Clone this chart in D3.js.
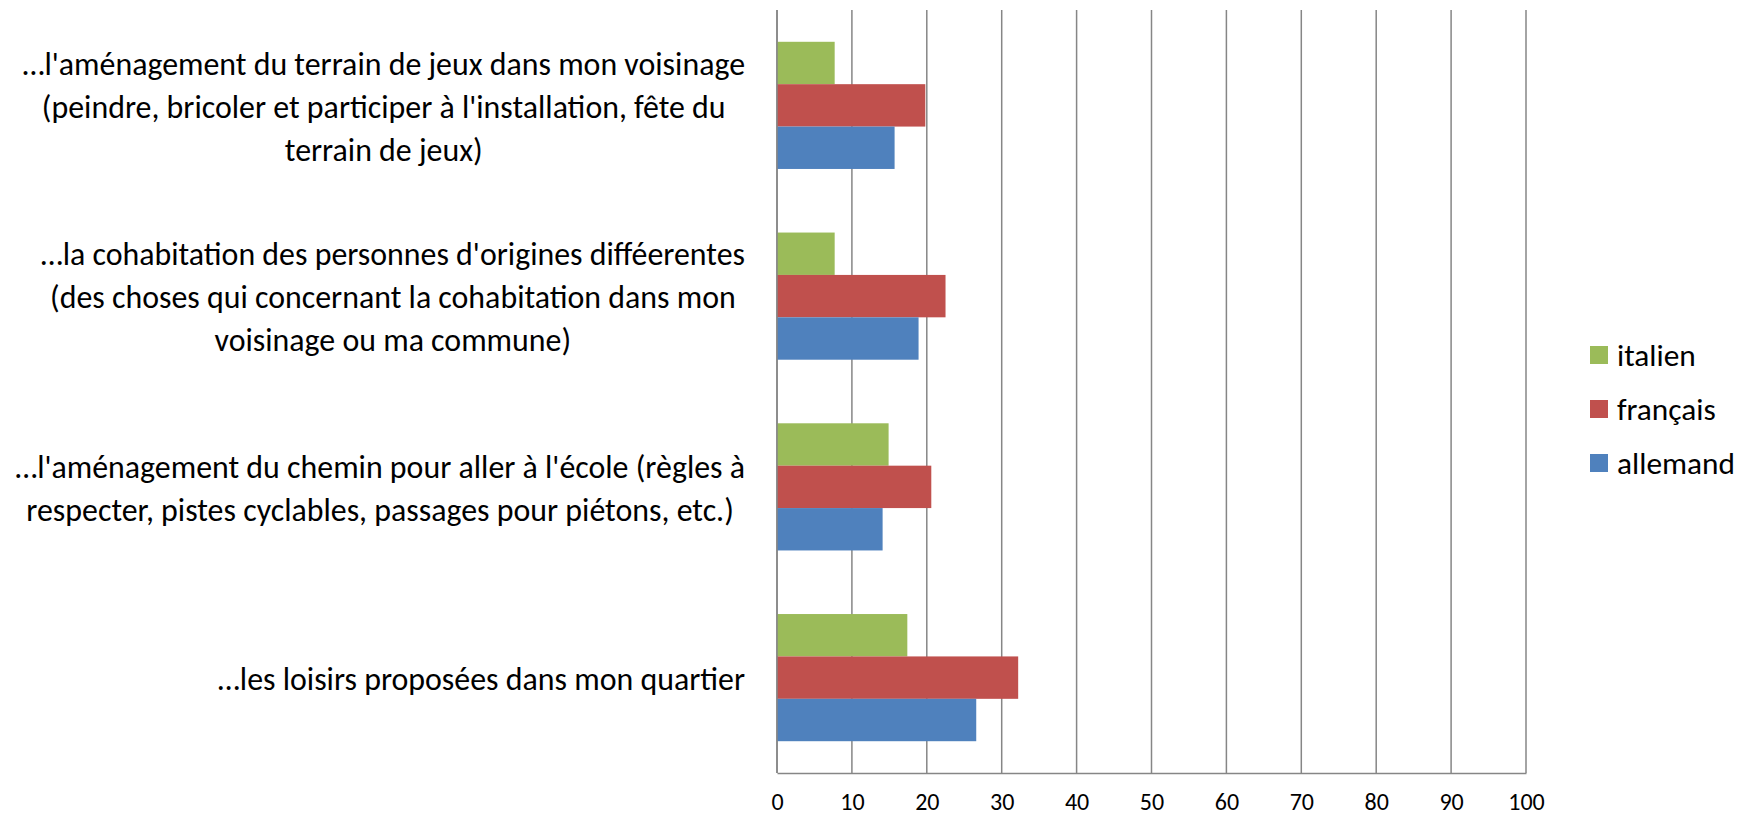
<!DOCTYPE html>
<html>
<head>
<meta charset="utf-8">
<script src="https://cdn.jsdelivr.net/npm/d3@7"></script>
<style>
  html, body { margin: 0; padding: 0; background: #fff; }
  svg { display: block; }
</style>
</head>
<body>
<svg id="chart" width="1749" height="816"></svg>
<script>
// ---- data ----
const categories = [
  ["…l'aménagement du terrain de jeux dans mon voisinage", "(peindre, bricoler et participer à l'installation, fête du", "terrain de jeux)"],
  ["…la cohabitation des personnes d'origines difféerentes", "(des choses qui concernant la cohabitation dans mon", "voisinage ou ma commune)"],
  ["…l'aménagement du chemin pour aller à l'école (règles à", "respecter, pistes cyclables, passages pour piétons, etc.)"],
  ["…les loisirs proposées dans mon quartier"]
];
const seriesNames = ["italien", "français", "allemand"];
const italien  = [7.7, 7.7, 14.9, 17.4];
const francais = [19.8, 22.5, 20.6, 32.2];
const allemand = [15.7, 18.9, 14.1, 26.6];
const seriesValues = [italien, francais, allemand];
const seriesColors = ["#9BBB59", "#C0504D", "#4F81BD"];
const xTicks = [0, 10, 20, 30, 40, 50, 60, 70, 80, 90, 100];

// ---- layout ----
const FONT = "Carlito, 'Liberation Sans Narrow', 'Arial Narrow', sans-serif";
const svg = d3.select("#chart");
const plotL = 777, plotR = 1526, plotT = 10, plotB = 773;

const x = d3.scaleLinear().domain([0, 100]).range([plotL, plotR]);
const yCat = d3.scaleBand().domain(d3.range(categories.length)).range([plotT, plotB]).paddingInner(1/3).paddingOuter(1/6);
const ySer = d3.scaleBand().domain(d3.range(seriesNames.length)).range([0, yCat.bandwidth()]);

function fitSize(str, targetW, base) {
  const t = svg.append("text").attr("font-family", FONT).attr("font-size", base).text(str);
  const w = t.node().getComputedTextLength();
  t.remove();
  return base * targetW / w;
}
const labelSize = fitSize(categories[0][0], 723, 100);
const tickSize = Math.min(fitSize("100", 37, 100), 24);
const legendSize = fitSize("allemand", 118, 100);

// gridlines
svg.append("g").selectAll("line").data(xTicks).join("line")
  .attr("x1", d => x(d)).attr("x2", d => x(d))
  .attr("y1", plotT).attr("y2", plotB)
  .attr("stroke", "#868686").attr("stroke-width", 1.5);

// bars
const groups = svg.append("g").selectAll("g").data(categories).join("g")
  .attr("transform", (d, i) => `translate(0,${yCat(i)})`);
groups.selectAll("rect").data((d, i) => seriesValues.map((s, j) => ({ v: s[i], j })))
  .join("rect")
  .attr("x", x(0))
  .attr("y", d => ySer(d.j))
  .attr("width", d => x(d.v) - x(0))
  .attr("height", ySer.bandwidth())
  .attr("fill", d => seriesColors[d.j]);

// bottom axis
const xAxis = d3.axisBottom(x).tickValues(xTicks).tickSize(0).tickPadding(0);
const ax = svg.append("g").attr("transform", `translate(0,${plotB})`).call(xAxis);
ax.select(".domain").attr("stroke", "#868686").attr("stroke-width", 1.5);
ax.selectAll("text")
  .attr("font-family", FONT).attr("font-size", tickSize)
  .attr("fill", "#000").attr("y", 29).attr("dy", "0.35em");

// left axis line
svg.append("line").attr("x1", x(0)).attr("x2", x(0)).attr("y1", plotT).attr("y2", plotB)
  .attr("stroke", "#868686").attr("stroke-width", 1.5);

// category labels
const labelRight = 745, lineH = 43;
categories.forEach((lines, i) => {
  const cy = yCat(i) + yCat.bandwidth() / 2 + 1;
  const g = svg.append("g");
  const texts = lines.map((ln, k) => g.append("text")
    .attr("font-family", FONT).attr("font-size", labelSize)
    .attr("fill", "#000").attr("text-anchor", "middle")
    .attr("y", cy + (k - (lines.length - 1) / 2) * lineH)
    .attr("dy", "0.35em").text(ln));
  const maxW = d3.max(texts, t => t.node().getComputedTextLength());
  texts.forEach(t => t.attr("x", labelRight - maxW / 2));
});

// legend
const legend = svg.append("g");
const legY = [355, 409, 463];
seriesNames.forEach((name, j) => {
  legend.append("rect").attr("x", 1590).attr("y", legY[j] - 9).attr("width", 18).attr("height", 18)
    .attr("fill", seriesColors[j]);
  legend.append("text").attr("x", 1617).attr("y", legY[j]).attr("dy", "0.35em")
    .attr("font-family", FONT).attr("font-size", legendSize).attr("fill", "#000").text(name);
});
</script>
</body>
</html>
